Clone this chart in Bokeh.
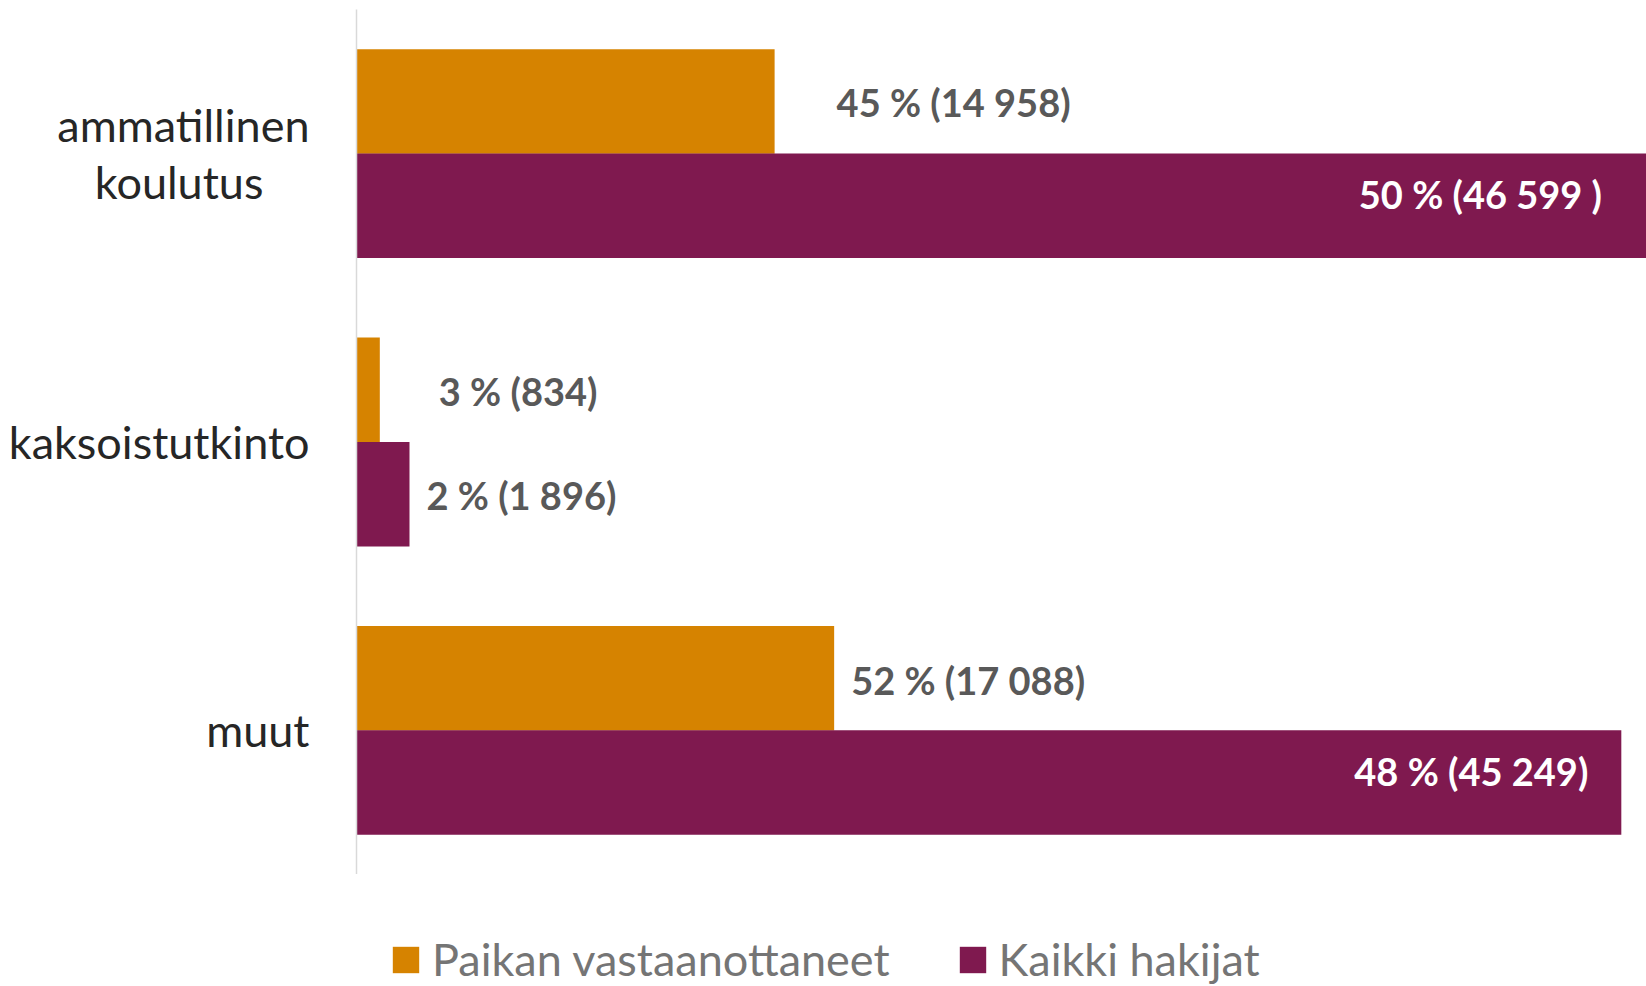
from bokeh.plotting import figure
from bokeh.layouts import column
from bokeh.models import ColumnDataSource, FactorRange, Range1d, Legend, LegendItem
from bokeh.transform import dodge
from bokeh.core.properties import value
from bokeh.embed import file_html
from bokeh.resources import INLINE

# ---- data ----
NBSP = "\u00a0"
categories = ["ammatillinen\nkoulutus" + NBSP * 4, "kaksoistutkinto", "muut"]
series_names = ["Paikan vastaanottaneet", "Kaikki hakijat"]
accepted = [14958, 834, 17088]          # Paikan vastaanottaneet (count)
applicants = [46599, 1896, 45249]       # Kaikki hakijat (count)
accepted_pct = [45, 3, 52]
applicants_pct = [50, 2, 48]
accepted_text = ["45 % (14 958)", "3 % (834)", "52 % (17 088)"]
applicants_text = ["50 % (46 599 )", "2 % (1 896)", "48 % (45 249)"]

# ---- styles ----
ORANGE = "#D68300"
PURPLE = "#7F194F"
LABEL_GRAY = "#595959"
FONT = "Lato"

acc_dx = [62, 59, 17]
acc_dy = [1, 1, 2]
acc_align = ["left", "left", "left"]
acc_color = [LABEL_GRAY, LABEL_GRAY, LABEL_GRAY]

app_dx = [-57, 17, -33]
app_dy = [-12, 1, -12]
app_align = ["right", "left", "right"]
app_color = ["white", LABEL_GRAY, "white"]

src_acc = ColumnDataSource(dict(cat=categories, val=accepted, text=accepted_text,
                                dx=acc_dx, dy=acc_dy, align=acc_align, color=acc_color))
src_app = ColumnDataSource(dict(cat=categories, val=applicants, text=applicants_text,
                                dx=app_dx, dy=app_dy, align=app_align, color=app_color))

p = figure(width=1646, height=874,
           y_range=FactorRange(factors=list(reversed(categories))),
           x_range=Range1d(0, 46150),
           output_backend="svg", toolbar_location=None,
           min_border_left=356, min_border_right=0,
           min_border_top=9, min_border_bottom=0)

BAR_H = 0.3625
OFF = 0.181

r1 = p.hbar(y=dodge("cat", OFF, range=p.y_range), left=0, right="val", height=BAR_H,
            source=src_acc, fill_color=ORANGE, line_color=None)
r2 = p.hbar(y=dodge("cat", -OFF, range=p.y_range), left=0, right="val", height=BAR_H,
            source=src_app, fill_color=PURPLE, line_color=None)

for src, off in ((src_acc, OFF), (src_app, -OFF)):
    p.text(x="val", y=dodge("cat", off, range=p.y_range), text="text", source=src,
           x_offset="dx", y_offset="dy", text_align="align", text_baseline="middle",
           text_color="color", text_font=value(FONT), text_font_style="bold",
           text_font_size="38px")

p.xaxis.visible = False
p.xgrid.visible = False
p.ygrid.visible = False
p.outline_line_color = None

ax = p.yaxis[0]
ax.major_label_text_font = FONT
ax.major_label_text_font_size = "45px"
ax.major_label_text_line_height = 1.06
ax.major_label_text_color = "#262626"
ax.major_tick_line_color = None
ax.minor_tick_line_color = None
ax.major_tick_out = 0
ax.major_label_standoff = 47
ax.axis_line_color = "#D9D9D9"
ax.axis_line_width = 1.5

# ---- legend strip below the chart (its frame is aligned with the chart frame) ----
lg = figure(width=1646, height=112, x_range=Range1d(0, 1), y_range=Range1d(0, 1),
            output_backend="svg", toolbar_location=None,
            min_border_left=356, min_border_right=0, min_border_top=0, min_border_bottom=0)
lg.axis.visible = False
lg.grid.visible = False
lg.outline_line_color = None
# key swatches reuse the series sources; their bars fall outside this strip's range
k1 = lg.hbar(y=-5, left=0, right="val", height=0.1, source=src_acc,
             fill_color=ORANGE, line_color=None)
k2 = lg.hbar(y=-5, left=0, right="val", height=0.1, source=src_app,
             fill_color=PURPLE, line_color=None)
legend = Legend(items=[LegendItem(label=series_names[0], renderers=[k1]),
                       LegendItem(label=series_names[1], renderers=[k2])],
                orientation="horizontal", location=(33, 0),
                glyph_width=33, glyph_height=33, label_standoff=10, spacing=66,
                label_height=33,
                padding=0, margin=0, border_line_color=None, background_fill_alpha=0,
                label_text_font=FONT, label_text_font_size="45px",
                label_text_color="#757575")
lg.add_layout(legend, "center")

layout = column(p, lg, spacing=0)
open("out.html", "w").write(file_html(layout, INLINE))
